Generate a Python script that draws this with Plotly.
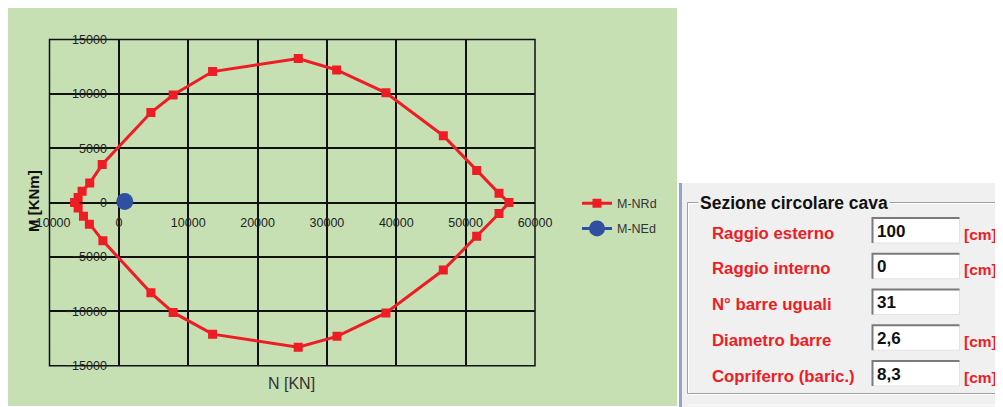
import plotly.graph_objects as go

W, H = 1003, 407
OFF = 8  # the page body keeps an 8px margin round the figure
FW, FH = W - OFF, H - OFF

# interaction diagram M-N (resisting domain)
n_rd = [-6350, -5870, -5300, -4200, -2400, 4620, 7830, 13510, 25870, 31400, 38510, 46780, 51590, 54810, 56250,
        54810, 51590, 46780, 38510, 31450, 25860, 13510, 7830, 4620, -2300, -4250, -5100, -5870, -6350]
m_rd = [0, 460, 1050, 1800, 3500, 8280, 9900, 12050, 13250, 12200, 10100, 6150, 2950, 850, 0,
        -1000, -3100, -6200, -10150, -12300, -13300, -12100, -10100, -8300, -3520, -2000, -1250, -500, 0]

# design action
n_ed = [850]
m_ed = [100]

# section panel
panel_title = "Sezione circolare cava"
field_labels = ["Raggio esterno", "Raggio interno", "N° barre uguali", "Diametro barre", "Copriferro (baric.)"]
field_values = ["100", "0", "31", "2,6", "8,3"]
field_units = ["[cm]", "[cm]", "", "[cm]", "[cm]"]

RED = "#ee1c25"
BLUE = "#2f4fa0"
GREEN = "#c6e0b4"
FONT = "Liberation Sans, Arial, sans-serif"


def fx(px):
    return (px - OFF) / FW


def fy(py):
    return 1 - (py - OFF) / FH


xd = [fx(49.5), fx(535)]
yd = [fy(365.7), fy(39.5)]

fig = go.Figure()

fig.add_trace(go.Scatter(
    x=n_rd, y=m_rd, name="M-NRd", mode="lines+markers",
    line=dict(color=RED, width=3),
    marker=dict(symbol="square", size=9, color=RED),
    legendgroup="a",
))
fig.add_trace(go.Scatter(
    x=n_ed, y=m_ed, name="M-NEd", mode="lines+markers",
    line=dict(color=BLUE, width=3),
    marker=dict(symbol="circle", size=17, color=BLUE),
    legendgroup="b",
))

axis_common = dict(
    showgrid=True, gridcolor="#111111", gridwidth=1.5,
    zeroline=True, zerolinecolor="#111111", zerolinewidth=1.5,
    showline=False, ticks="", tickformat="d",
    tickfont=dict(family=FONT, size=12.5, color="#222222"),
    fixedrange=True,
)

fig.update_layout(
    width=FW, height=FH,
    margin=dict(l=0, r=0, t=0, b=0, autoexpand=False),
    paper_bgcolor="white",
    plot_bgcolor=GREEN,
    showlegend=True,
    legend=dict(
        x=fx(577), y=fy(188.5), xanchor="left", yanchor="top",
        bgcolor="rgba(0,0,0,0)", traceorder="grouped", tracegroupgap=6,
        font=dict(family=FONT, size=12.5, color="#333333"),
    ),
    xaxis=dict(
        axis_common, domain=xd, range=[-10000, 60000], dtick=10000, tick0=0,
        anchor="free", position=(yd[0] + yd[1]) / 2, ticklabelstandoff=11,
    ),
    yaxis=dict(
        axis_common, domain=yd, range=[-15000, 15000], dtick=5000, tick0=0,
        anchor="free", position=xd[0] + (xd[1] - xd[0]) / 7, ticklabelstandoff=12,
    ),
)

shapes = [
    # green chart background
    dict(type="rect", xref="paper", yref="paper", x0=fx(7), x1=fx(677), y0=fy(406), y1=fy(7),
         fillcolor=GREEN, line=dict(width=0), layer="below"),
    # frame of plot area
    dict(type="rect", xref="paper", yref="paper", x0=xd[0], x1=xd[1], y0=yd[0], y1=yd[1],
         line=dict(color="#111111", width=1.5), layer="below"),
    # side panel
    dict(type="rect", xref="paper", yref="paper", x0=fx(682), x1=fx(1003), y0=fy(407), y1=fy(183),
         fillcolor="#f0f0f0", line=dict(width=0)),
    dict(type="rect", xref="paper", yref="paper", x0=fx(679), x1=fx(682), y0=fy(407), y1=fy(183),
         fillcolor="#8ea6cc", line=dict(width=0)),
    # etched group box
    dict(type="rect", xref="paper", yref="paper", x0=fx(688.5), x1=fx(1010), y0=fy(394.5), y1=fy(203.5),
         line=dict(color="#ffffff", width=1)),
    dict(type="rect", xref="paper", yref="paper", x0=fx(687.5), x1=fx(1010), y0=fy(393.5), y1=fy(202.5),
         line=dict(color="#a0a0a0", width=1)),
    dict(type="line", xref="paper", yref="paper", x0=fx(687), x1=fx(1003), y0=fy(405), y1=fy(405),
         line=dict(color="#fafafa", width=1.5)),
]

annotations = [
    dict(text="<b>M [KNm]</b>", x=fx(34), y=fy(201), xref="paper", yref="paper", showarrow=False,
         textangle=-90, font=dict(family=FONT, size=15, color="#111111"), xanchor="center", yanchor="middle"),
    dict(text="N [KN]", x=fx(291), y=fy(383), xref="paper", yref="paper", showarrow=False,
         font=dict(family=FONT, size=16, color="#333333"), xanchor="center", yanchor="middle"),
    dict(text="<b>" + panel_title + "</b>", x=fx(698), y=fy(203), xref="paper", yref="paper", showarrow=False,
         font=dict(family=FONT, size=17.5, color="#111111"), xanchor="left", yanchor="middle",
         bgcolor="#f0f0f0", borderpad=1),
]

for i, (lab, val, unit) in enumerate(zip(field_labels, field_values, field_units)):
    cy = 233 + i * 35.75
    annotations.append(dict(text="<b>" + lab + "</b>", x=fx(710), y=fy(cy), xref="paper", yref="paper",
                            showarrow=False, font=dict(family=FONT, size=16.8, color=RED),
                            xanchor="left", yanchor="middle"))
    bx0, bx1, by0, by1 = 872.5, 959.5, cy - 15, cy + 10
    shapes.append(dict(type="rect", xref="paper", yref="paper", x0=fx(bx0), x1=fx(bx1), y0=fy(by1), y1=fy(by0),
                       fillcolor="white", line=dict(color="#e3e3e3", width=1)))
    shapes.append(dict(type="path", xref="paper", yref="paper",
                       path=f"M {fx(bx0)},{fy(by1)} L {fx(bx0)},{fy(by0)} L {fx(bx1)},{fy(by0)}",
                       line=dict(color="#7a7a7a", width=2)))
    annotations.append(dict(text="<b>" + val + "</b>", x=fx(875), y=fy(cy - 2), xref="paper", yref="paper",
                            showarrow=False, font=dict(family=FONT, size=17, color="#111111"),
                            xanchor="left", yanchor="middle"))
    if unit:
        annotations.append(dict(text="<b>" + unit + "</b>", x=fx(962), y=fy(cy + 1), xref="paper", yref="paper",
                                showarrow=False, font=dict(family=FONT, size=15.5, color=RED),
                                xanchor="left", yanchor="middle"))

fig.update_layout(shapes=shapes, annotations=annotations)

fig.write_html("out.html")
